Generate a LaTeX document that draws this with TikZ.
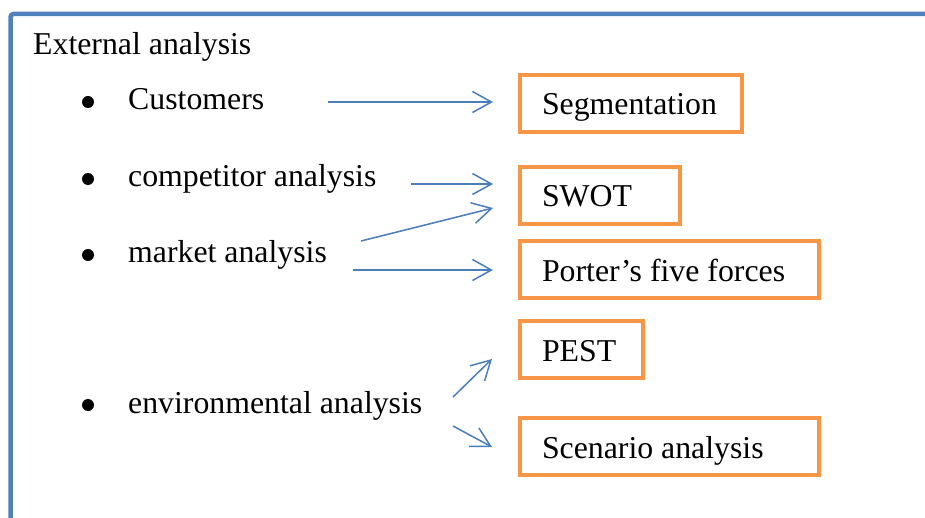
\documentclass[tikz,border=0pt]{standalone}
\usepackage{fontspec}
\setmainfont{Liberation Serif}
\usetikzlibrary{arrows.meta}
\definecolor{frameblue}{HTML}{4F81BD}
\definecolor{boxorange}{HTML}{F79646}
\definecolor{arrowblue}{HTML}{4A7EBB}

\begin{document}
\begin{tikzpicture}[x=1pt, y=-1pt,
  every node/.style={font=\fontsize{31.8}{36}\selectfont},
  itemtext/.style={anchor=base west, inner sep=0},
  bulletmark/.style={circle, fill=black, minimum size=12, inner sep=0, outer sep=0},
  toolbox/.style={draw=boxorange, line width=4, anchor=north west, outer sep=0,
    inner xsep=22, inner ysep=0, text height=26, text depth=3,
    minimum height=57, align=flush left},
  link/.style={draw=arrowblue, line width=1.5,
    -{Straight Barb[length=19, width=21, line width=1.5]}}
]
\useasboundingbox (0,0) rectangle (925,518);

% open frame along the top and left edges
\begin{scope}
  \clip (0,0) rectangle (925,518);
  \draw[frameblue, line width=4.5, rounded corners=3]
    (10.5,560) -- (10.5,14) -- (960,14);
\end{scope}

% heading and list of analyses
\node[itemtext] (title) at (33,55) {External analysis};

\node[bulletmark] (b1) at (88,102) {};
\node[itemtext] (cust) at (128,110) {Customers};
\node[bulletmark] (b2) at (88,179) {};
\node[itemtext] (comp) at (128,187) {competitor analysis};
\node[bulletmark] (b3) at (88,255) {};
\node[itemtext] (mkt) at (128,263) {market analysis};
\node[bulletmark] (b4) at (88,405) {};
\node[itemtext] (env) at (128,413) {environmental analysis};

% tools
\node[toolbox, text width=178] (seg) at (520,75) {Segmentation};
\node[toolbox, text width=116] (swot) at (520,167) {SWOT};
\node[toolbox, text width=255] (porter) at (520,241) {Porter’s five forces};
\node[toolbox, text width=79] (pest) at (520,321) {PEST};
\node[toolbox, text width=255] (scen) at (520,418) {Scenario analysis};

% arrow end points
\coordinate (custOut) at (328,102);
\coordinate (segIn) at (493,102);
\coordinate (compOut) at (411,184);
\coordinate (swotInA) at (493,184);
\coordinate (mktOutA) at (361,241);
\coordinate (swotInB) at (493,208);
\coordinate (mktOutB) at (353,270);
\coordinate (porterIn) at (493,270);
\coordinate (envOutA) at (453,397);
\coordinate (pestIn) at (492,359);
\coordinate (envOutB) at (453,426);
\coordinate (scenIn) at (492,447);

\draw[link] (custOut) -- (segIn);
\draw[link] (compOut) -- (swotInA);
\draw[link] (mktOutA) -- (swotInB);
\draw[link] (mktOutB) -- (porterIn);
\draw[link] (envOutA) -- (pestIn);
\draw[link] (envOutB) -- (scenIn);
\end{tikzpicture}
\end{document}
